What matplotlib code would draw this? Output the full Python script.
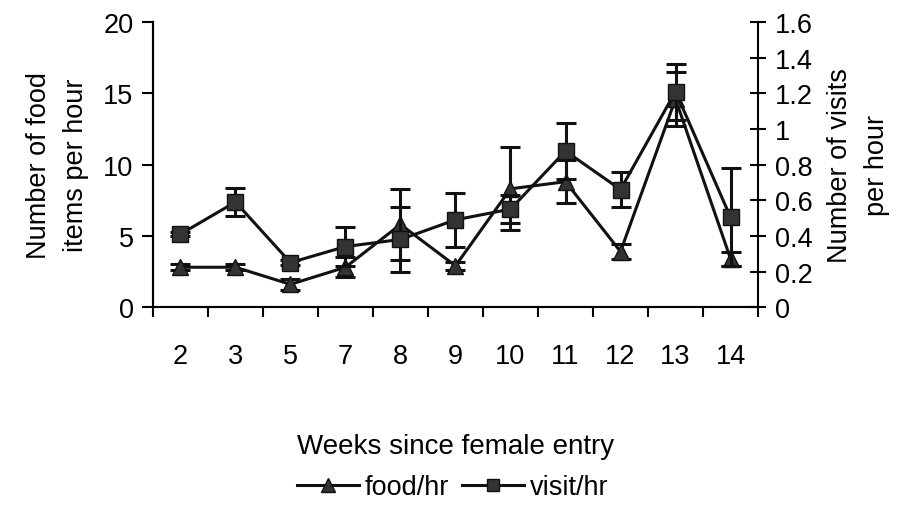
import numpy as np
import matplotlib.pyplot as plt
from matplotlib.lines import Line2D

plt.rcParams['font.family'] = ['Liberation Sans', 'DejaVu Sans']

weeks = ['2', '3', '5', '7', '8', '9', '10', '11', '12', '13', '14']
food_hr = [2.8, 2.8, 1.6, 2.8, 5.8, 2.9, 8.3, 8.8, 3.9, 14.6, 3.4]
food_err = [0.2, 0.2, 0.4, 0.7, 2.5, 0.3, 2.9, 1.5, 0.5, 1.9, 0.5]
visit_hr = [0.41, 0.59, 0.25, 0.34, 0.38, 0.49, 0.55, 0.876, 0.66, 1.21, 0.505]
visit_err = [0.01, 0.08, 0.012, 0.11, 0.18, 0.15, 0.08, 0.157, 0.1, 0.157, 0.275]

x = np.arange(len(weeks))
fs = 19.5
ink = '#111111'
mk = '#333333'

fig = plt.figure(figsize=(9.05, 5.06), dpi=100)
ax = fig.add_axes([0.169, 0.391, 0.6686, 0.5635])
ax2 = ax.twinx()

ax.errorbar(x, food_hr, yerr=food_err, color=ink, lw=2.2, marker='^', ms=12,
            mfc=mk, mec=ink, capsize=7, capthick=2.2, elinewidth=2.2, zorder=3)
ax2.errorbar(x, visit_hr, yerr=visit_err, color=ink, lw=2.2, marker='s', ms=11,
             mfc=mk, mec=ink, capsize=7, capthick=2.2, elinewidth=2.2, zorder=3)

ax.set_xlim(-0.5, len(weeks) - 0.5)
ax.set_ylim(0, 20)
ax2.set_ylim(0, 1.6)
ax.set_yticks([0, 5, 10, 15, 20])
ax2.set_yticks(np.arange(0, 1.61, 0.2))
ax2.set_yticklabels(['0', '0.2', '0.4', '0.6', '0.8', '1', '1.2', '1.4', '1.6'])

ax.set_xticks(x)
ax.set_xticklabels(weeks)
ax.set_xticks(np.arange(-0.5, len(weeks), 1.0), minor=True)
ax.tick_params(axis='x', which='major', length=0, pad=26, labelsize=fs)
ax.tick_params(axis='x', which='minor', length=7, width=1.5, direction='out')
ax.tick_params(axis='y', length=8, width=1.5, direction='out', pad=6, labelsize=fs)
ax2.tick_params(axis='y', length=12, width=1.5, direction='inout', pad=6, labelsize=fs)

for a in (ax, ax2):
    a.spines['top'].set_visible(False)
    for s in ('left', 'right', 'bottom'):
        a.spines[s].set_linewidth(1.5)
ax.spines['right'].set_visible(False)

ax.set_ylabel('Number of food\nitems per hour', fontsize=fs, labelpad=10, linespacing=1.55)
ax2.set_ylabel('Number of visits\nper hour', fontsize=fs, labelpad=10, linespacing=1.55)
ax.set_xlabel('Weeks since female entry', fontsize=20, labelpad=46)

handles = [
    Line2D([], [], color=ink, lw=2.2, marker='^', ms=10, mfc=mk, mec=ink),
    Line2D([], [], color=ink, lw=2.2, marker='s', ms=9, mfc=mk, mec=ink),
]
fig.legend(handles, ['food/hr', 'visit/hr'], loc='center', bbox_to_anchor=(0.5, 0.035),
           ncol=2, frameon=False, fontsize=fs, handlelength=2.3, handletextpad=0.2,
           columnspacing=0.5)

fig.savefig('out.png', dpi=100)
